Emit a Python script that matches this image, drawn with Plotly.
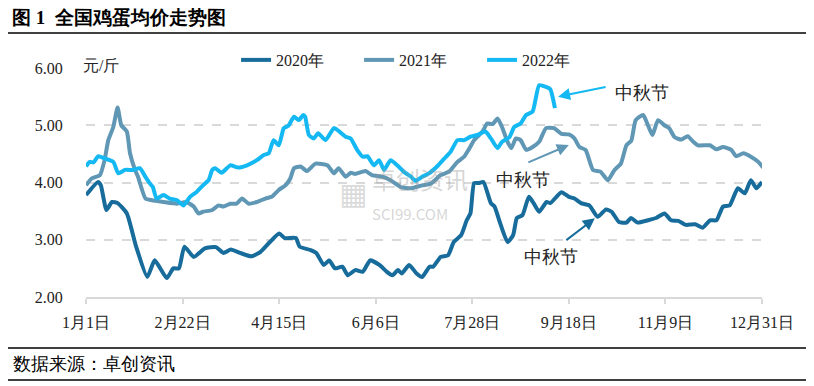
import plotly.graph_objects as go

# ---- data (day of year, price yuan/jin) ----
days_2020 = [0, 6.5, 8, 11, 14, 17, 22, 27, 33, 37, 43.5, 47, 50, 53, 58, 64, 70, 74, 78, 83, 89, 94, 99, 104, 107,
             113, 115, 121, 124, 128, 131, 134, 138, 141, 145, 149, 153, 158, 162, 165, 168, 170, 174, 178, 181, 185,
             187, 191, 195, 198, 202, 205, 207, 209, 211.5, 214, 218, 220, 223, 227, 230, 232, 235, 238.5, 241, 244,
             248, 250, 256, 260, 263, 266.5, 271, 275.5, 280, 283, 287, 291, 293.5, 297, 302.5, 307, 311.5, 315, 319,
             323, 328, 332, 336, 339.5, 343, 346.6, 351, 354.7, 358, 361, 364]
price_2020 = [3.78, 4.01, 3.95, 3.52, 3.66, 3.64, 3.46, 2.88, 2.35, 2.64, 2.33, 2.50, 2.50, 2.88, 2.70, 2.85, 2.87,
              2.77, 2.83, 2.77, 2.71, 2.79, 2.96, 3.11, 3.03, 3.03, 2.88, 2.82, 2.77, 2.56, 2.64, 2.50, 2.53, 2.38,
              2.47, 2.44, 2.64, 2.56, 2.44, 2.38, 2.47, 2.41, 2.56, 2.41, 2.35, 2.53, 2.53, 2.70, 2.73, 2.96, 3.08,
              3.34, 3.46, 3.99, 3.99, 4.01, 3.64, 3.58, 3.29, 2.96, 3.08, 3.38, 3.43, 3.75, 3.64, 3.49, 3.66, 3.64,
              3.83, 3.75, 3.72, 3.64, 3.60, 3.40, 3.53, 3.49, 3.31, 3.30, 3.38, 3.30, 3.34, 3.38, 3.46, 3.34, 3.33,
              3.26, 3.27, 3.21, 3.34, 3.34, 3.58, 3.60, 3.90, 3.81, 4.04, 3.90, 4.01]

days_2021 = [0, 3, 7.5, 10, 12, 14.7, 17, 19, 22, 23.7, 26.4, 28, 32, 35.5, 41.7, 49, 54, 58, 60.6, 63, 68, 71.4, 74,
             77.7, 81, 84, 87.6, 92, 96.6, 100, 103.8, 107.4, 110, 112, 115.5, 119, 123.6, 130, 133.5, 136, 139.8,
             142.5, 145, 150.5, 154, 159.6, 164, 169.5, 175, 181, 185.6, 191, 195.5, 200, 203.6, 206, 209, 213.5,
             216, 219, 221.6, 224, 227, 229, 231.5, 234, 237, 240.5, 244, 247.7, 252, 256, 260, 263, 265.7, 269,
             273, 277, 281, 284.6, 288, 291, 293.6, 296, 300, 302.6, 305, 308, 311.5, 314, 317, 320.6, 324, 327,
             329.5, 336, 339.5, 343, 347.5, 350, 354, 358, 362, 364.6]
price_2021 = [3.95, 4.07, 4.13, 4.39, 4.74, 4.97, 5.31, 5.00, 4.89, 4.51, 4.22, 4.10, 3.72, 3.69, 3.66, 3.63, 3.66,
              3.58, 3.46, 3.49, 3.52, 3.60, 3.58, 3.63, 3.63, 3.72, 3.63, 3.66, 3.72, 3.75, 3.87, 3.95, 4.07, 4.25,
              4.28, 4.20, 4.33, 4.30, 4.16, 4.25, 4.10, 4.17, 4.15, 4.20, 4.13, 4.10, 4.04, 3.92, 3.90, 3.95, 3.98,
              4.13, 4.19, 4.36, 4.45, 4.57, 4.74, 4.89, 5.03, 5.02, 5.12, 4.97, 4.71, 4.60, 4.77, 4.74, 4.57, 4.62,
              4.71, 4.95, 4.95, 4.85, 4.84, 4.77, 4.62, 4.57, 4.22, 4.19, 4.04, 4.22, 4.33, 4.65, 4.73, 5.09, 5.18,
              5.00, 4.83, 5.09, 5.00, 4.95, 4.79, 4.75, 4.81, 4.71, 4.65, 4.65, 4.58, 4.62, 4.57, 4.46, 4.51, 4.45,
              4.36, 4.26]

days_2022 = [0, 2, 4, 6.6, 10, 14.7, 17.4, 21, 25.5, 29, 32, 34.5, 36, 38, 41.7, 45, 49, 52.5, 56, 59.7, 63, 66, 68,
             69.6, 73, 77.7, 82, 86.7, 92, 95.7, 98.4, 101, 103.8, 106.5, 109, 112, 114.6, 117, 118, 120, 122.7, 125,
             129, 133.5, 136, 139.8, 142.5, 146, 149, 151.5, 155, 157.8, 160.5, 164, 167.6, 171, 175, 177.5, 181,
             184.7, 189, 193, 196.4, 200, 203.6, 207, 210.8, 215, 218, 221.6, 224, 228, 230.6, 234, 237, 240.5, 244,
             247.7, 250, 252.5]
price_2022 = [4.28, 4.36, 4.35, 4.46, 4.42, 4.36, 4.16, 4.22, 4.22, 4.25, 4.10, 3.98, 3.92, 3.72, 3.78, 3.72, 3.69,
              3.60, 3.75, 3.84, 3.95, 4.04, 4.22, 4.25, 4.17, 4.30, 4.26, 4.30, 4.39, 4.48, 4.51, 4.74, 4.65, 4.95,
              4.99, 5.15, 5.09, 5.18, 5.15, 4.83, 4.77, 4.86, 4.74, 4.95, 4.90, 4.80, 4.77, 4.57, 4.45, 4.46, 4.30,
              4.39, 4.22, 4.39, 4.30, 4.19, 4.10, 4.03, 4.10, 4.16, 4.28, 4.42, 4.54, 4.74, 4.74, 4.80, 4.83, 4.89,
              4.77, 4.60, 4.71, 4.79, 4.97, 5.03, 5.18, 5.24, 5.70, 5.67, 5.63, 5.30]

tick_days = [0, 52, 104, 156, 208, 260, 312, 364]
tick_labels = ["1月1日", "2月22日", "4月15日", "6月6日", "7月28日", "9月18日", "11月9日", "12月31日"]
y_ticks = [2, 3, 4, 5, 6]

series = [
    ("2020年", days_2020, price_2020, "#176C9B"),
    ("2021年", days_2021, price_2021, "#5F97B5"),
    ("2022年", days_2022, price_2022, "#14B8F2"),
]

SERIF = "Liberation Serif"
CJK = "Noto Sans CJK SC"

fig = go.Figure()
for name, d, p, c in series:
    fig.add_trace(go.Scatter(x=d, y=p, name=name, mode="lines",
                             line=dict(color=c, width=4, shape="spline", smoothing=0.5)))

# page is rendered with an 8px body margin, so the plot area is placed 8px up/left
fig.update_layout(
    width=814, height=386,
    margin=dict(l=78, r=60, t=60, b=97, autoexpand=False),
    paper_bgcolor="white", plot_bgcolor="white",
    font=dict(family=SERIF, size=16, color="#222222"),
    showlegend=True,
    legend=dict(orientation="h", x=0.222, y=1.035, xanchor="left", yanchor="middle",
                font=dict(size=16, family=SERIF), bgcolor="rgba(0,0,0,0)", entrywidth=78),
    xaxis=dict(range=[0, 364], tickvals=tick_days, ticktext=tick_labels, showgrid=False, automargin=False,
               showline=True, linecolor="#D9D9D9", linewidth=2, ticks="outside", ticklen=5,
               tickcolor="#D9D9D9", tickwidth=2, zeroline=False,
               tickfont=dict(size=16, family=SERIF, color="#222222"), ticklabelstandoff=5),
    yaxis=dict(range=[2, 6], tickvals=y_ticks, tickformat=".2f", showgrid=True, gridcolor="#D9D9D9",
               griddash="dash", gridwidth=2, zeroline=False, showline=False, automargin=False,
               ticks="outside", ticklen=19, tickcolor="rgba(0,0,0,0)",
               tickfont=dict(size=16, family=SERIF, color="#222222")),
)

def px2paper_x(px):
    return (px - 86) / 676.0

def px2paper_y(py):
    return (297 - py) / 229.0

# frame lines
for py in [3, 33, 348, 380]:
    fig.add_shape(type="line", xref="paper", yref="paper", x0=px2paper_x(0), x1=px2paper_x(808),
                  y0=px2paper_y(py), y1=px2paper_y(py), line=dict(color="black", width=1.5))

# title / unit / source
fig.add_annotation(xref="paper", yref="paper", x=px2paper_x(10), y=px2paper_y(17), xanchor="left",
                   yanchor="middle", showarrow=False, text="<b>图 1  全国鸡蛋均价走势图</b>",
                   font=dict(size=19, family=SERIF, color="black"))
fig.add_annotation(xref="paper", yref="paper", x=px2paper_x(81), y=px2paper_y(66), xanchor="left",
                   yanchor="middle", showarrow=False, text="元/斤",
                   font=dict(size=16, family=SERIF, color="#222222"))
fig.add_annotation(xref="paper", yref="paper", x=px2paper_x(11), y=px2paper_y(364), xanchor="left",
                   yanchor="middle", showarrow=False, text="数据来源：卓创资讯",
                   font=dict(size=18, family=SERIF, color="black"))

# watermark
fig.add_annotation(xref="paper", yref="paper", x=px2paper_x(370), y=px2paper_y(192), xanchor="left",
                   yanchor="middle", showarrow=False, align="left",
                   text="卓创资讯<br><span style='font-size:15px'>SCI99.COM</span>",
                   font=dict(size=24, family=CJK, color="rgba(150,150,150,0.4)"))
fig.add_annotation(xref="paper", yref="paper", x=px2paper_x(353), y=px2paper_y(193), xanchor="center",
                   yanchor="middle", showarrow=False, text="▦",
                   font=dict(size=30, family="DejaVu Sans", color="rgba(150,150,150,0.35)"))

# 中秋节 annotations: (arrow head day, value, ax, ay, color, text day, text value)
ann = [
    (254.2, 5.50, 49, -10, "#14B8F2", 299.5, 5.56),
    (260.0, 4.655, -42, 18, "#5F97B5", 235.3, 4.04),
    (274.0, 3.375, -30, 23, "#176C9B", 250.4, 2.70),
]
for hx, hy, ax, ay, col, tx, ty in ann:
    fig.add_annotation(x=hx, y=hy, ax=ax, ay=ay, text="", showarrow=True, arrowhead=2,
                       arrowsize=1.2, arrowwidth=2, arrowcolor=col)
    fig.add_annotation(x=tx, y=ty, text="中秋节", showarrow=False,
                       font=dict(size=18, family=SERIF, color="#222222"))

fig.write_html("out.html")
